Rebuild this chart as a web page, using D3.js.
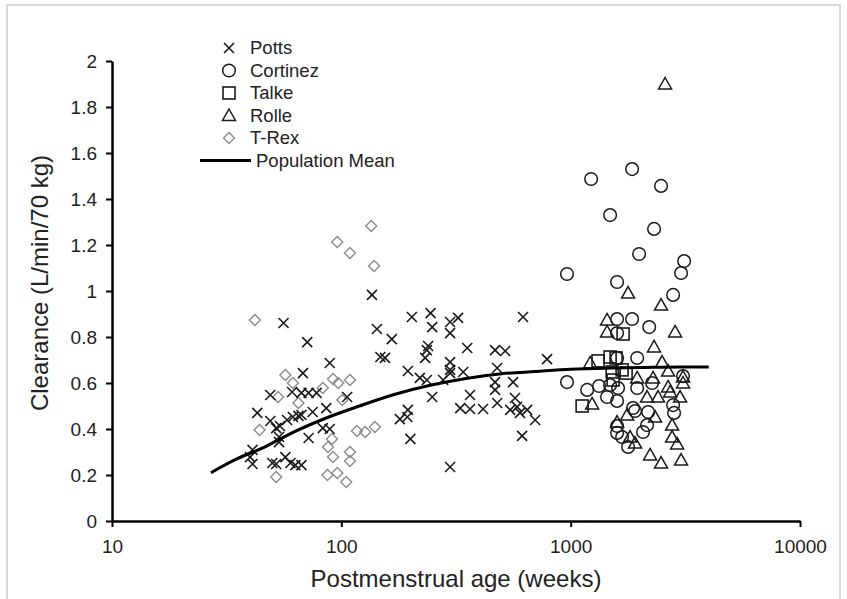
<!DOCTYPE html>
<html><head><meta charset="utf-8">
<script src="https://cdn.jsdelivr.net/npm/d3@7"></script>
<style>body{margin:0;background:#fff}svg{display:block}</style>
</head><body><svg id="c" width="847" height="599"></svg>
<script>
// ---- data ----
const xTicks = [10, 100, 1000, 10000];
const yTicks = [0,0.2,0.4,0.6,0.8,1,1.2,1.4,1.6,1.8,2];
const legendLabels = ["Potts","Cortinez","Talke","Rolle","T-Rex","Population Mean"];

const pottsX = [136,56,71,143,166,203,245,249,323,298,298,620,239,232,354,298,298,298,340,468,518,478,789,220,278,468,561,468,249,364,330,364,415,478,572,545,584,601,646,700,614,298,
 89,148,155,236,68,195,236,49,61,67,72,78,106,43,49,52,54,58,61.5,65,67,75,86,83,89,53.5,72,180,194,195,200,53.5,41,40,41,50,52,57,60,63,67];
const pottsY = [0.983,0.861,0.778,0.835,0.791,0.887,0.904,0.843,0.883,0.865,0.817,0.887,0.761,0.709,0.752,0.691,0.657,0.643,0.648,0.743,0.739,0.665,0.704,0.622,0.613,0.604,0.604,0.570,0.539,0.548,0.491,0.487,0.487,0.513,0.535,0.483,0.496,0.470,0.483,0.439,0.370,0.235,
 0.687,0.713,0.709,0.743,0.643,0.652,0.613,0.548,0.561,0.557,0.557,0.557,0.539,0.470,0.435,0.404,0.413,0.439,0.452,0.457,0.461,0.474,0.491,0.404,0.400,0.365,0.361,0.443,0.452,0.483,0.357,0.343,0.309,0.278,0.248,0.252,0.248,0.278,0.252,0.243,0.243];

const cortinezX = [1228,1853,2478,1486,2310,1988,3124,3030,964,1594,2797,1594,1853,2200,1594,964,1180,1330,1486,1610,1950,1594,1441,1594,1871,1909,2177,1950,2265,2797,2825,2154,2068,1594,1594,1676,1780,3090];
const cortinezY = [1.487,1.530,1.457,1.330,1.270,1.161,1.130,1.078,1.074,1.039,0.983,0.878,0.878,0.843,0.817,0.604,0.570,0.587,0.591,0.578,0.709,0.709,0.539,0.522,0.491,0.478,0.474,0.578,0.600,0.504,0.470,0.417,0.387,0.413,0.383,0.365,0.322,0.630];

const talkeX = [1693,1486,1578,1316,1517,1676,1745,1531,1122];
const talkeY = [0.813,0.713,0.709,0.696,0.648,0.657,0.643,0.613,0.500];

const rolleX = [2581,1780,2478,1441,1441,2853,2310,1216,2504,2660,1950,2287,3090,3090,2660,2715,2405,2154,3000,1240,1763,2334,1594,2769,2769,2912,1816,1909,2220,2478,3030];
const rolleY = [1.900,0.991,0.939,0.874,0.822,0.822,0.757,0.687,0.691,0.652,0.622,0.622,0.626,0.600,0.583,0.561,0.539,0.539,0.539,0.509,0.461,0.452,0.430,0.417,0.365,0.335,0.365,0.339,0.287,0.252,0.265];

const trexX = [135,96,109,139,42,57,61.5,53,65,92,97,109,83,101,44,91,87.5,109,92,109,117,127,140,52,87,96,105];
const trexY = [1.283,1.213,1.165,1.109,0.874,0.635,0.600,0.539,0.513,0.617,0.600,0.613,0.578,0.526,0.396,0.357,0.322,0.300,0.278,0.261,0.391,0.387,0.409,0.191,0.200,0.209,0.170];

const meanX = [27,35,46,60,87,120,170,244,350,500,700,1000,1500,2000,3000,4000];
const meanY = [0.21,0.27,0.32,0.38,0.45,0.50,0.55,0.59,0.62,0.64,0.65,0.66,0.665,0.667,0.67,0.67];

// ---- drawing ----
const svg = d3.select("#c");
const W = 847, H = 599;
const m = {left:112, right:47, top:61, bottom:78};
const x = d3.scaleLog().domain([10,10000]).range([m.left, W - m.right]);
const y = d3.scaleLinear().domain([0,2]).range([H - m.bottom, m.top]);

// outer frame
svg.append("path").attr("d", `M7,${H} V5 H840 V${H}`).attr("fill","none").attr("stroke","#d9d9d9").attr("stroke-width",2);

const axisFont = "'Liberation Sans', Arial, sans-serif";
const gx = svg.append("g").attr("transform", `translate(0,${y(0)})`)
  .call(d3.axisBottom(x).tickValues(xTicks).tickFormat(d3.format("d")).tickSizeInner(6).tickSizeOuter(0).tickPadding(13));
const gy = svg.append("g").attr("transform", `translate(${m.left},0)`)
  .call(d3.axisLeft(y).tickValues(yTicks).tickFormat(d => String(+d.toFixed(1))).tickSizeInner(6).tickSizeOuter(0).tickPadding(9));
[gx, gy].forEach(g => {
  g.select(".domain").attr("stroke","#000").attr("stroke-width",2.5);
  g.selectAll(".tick line").attr("stroke","#000").attr("stroke-width",2);
  g.selectAll(".tick text").attr("font-family", axisFont).attr("font-size", 19).attr("fill","#222");
});

svg.append("text").attr("x", (m.left + W - m.right)/2).attr("y", 587).attr("text-anchor","middle")
  .attr("font-family", axisFont).attr("font-size", 24).attr("fill","#222").text("Postmenstrual age (weeks)");
svg.append("text").attr("transform", `translate(40,${(m.top + H - m.bottom)/2 - 8}) rotate(-90)`).attr("text-anchor","middle")
  .attr("dy","0.35em").attr("font-family", axisFont).attr("font-size", 24).attr("fill","#222").text("Clearance (L/min/70 kg)");

const ink = "#1a1a1a";
function drawMark(g, type) {
  if (type === "x") {
    g.append("path").attr("d","M-5,-5L5,5M-5,5L5,-5").attr("stroke",ink).attr("stroke-width",1.6).attr("fill","none");
  } else if (type === "o") {
    g.append("circle").attr("r",6.3).attr("fill","none").attr("stroke",ink).attr("stroke-width",1.5);
  } else if (type === "s") {
    g.append("rect").attr("x",-6).attr("y",-6).attr("width",12).attr("height",12).attr("fill","none").attr("stroke",ink).attr("stroke-width",1.6);
  } else if (type === "t") {
    g.append("path").attr("d","M0,-6.5L6.5,5L-6.5,5Z").attr("fill","none").attr("stroke",ink).attr("stroke-width",1.5);
  } else if (type === "d") {
    g.append("path").attr("d","M0,-5.5L5.5,0L0,5.5L-5.5,0Z").attr("fill","none").attr("stroke","#8c8c8c").attr("stroke-width",1.4);
  }
}
function series(xs, ys, type) {
  const g = svg.append("g");
  xs.forEach((v,i) => {
    drawMark(g.append("g").attr("transform", `translate(${x(v)},${y(ys[i])})`), type);
  });
}
series(trexX, trexY, "d");
series(pottsX, pottsY, "x");
series(cortinezX, cortinezY, "o");
series(talkeX, talkeY, "s");
series(rolleX, rolleY, "t");

const line = d3.line().x(d => x(d[0])).y(d => y(d[1])).curve(d3.curveMonotoneX);
svg.append("path").datum(meanX.map((v,i)=>[v, meanY[i]])).attr("d", line)
  .attr("fill","none").attr("stroke","#000").attr("stroke-width",3);

// legend
const legFont = "'Liberation Sans', Arial, sans-serif";
const types = ["x","o","s","t","d"];
const lg = svg.append("g");
legendLabels.forEach((lab,i) => {
  const yy = 48 + i*22.5;
  if (i < 5) drawMark(lg.append("g").attr("transform", `translate(229,${yy})`), types[i]);
  else lg.append("line").attr("x1",200).attr("x2",251).attr("y1",yy).attr("y2",yy).attr("stroke","#000").attr("stroke-width",3);
  lg.append("text").attr("x", i < 5 ? 250 : 256).attr("y", yy).attr("dy","0.35em")
    .attr("font-family", legFont).attr("font-size", 18.5).attr("fill","#222").text(lab);
});
</script></body></html>
